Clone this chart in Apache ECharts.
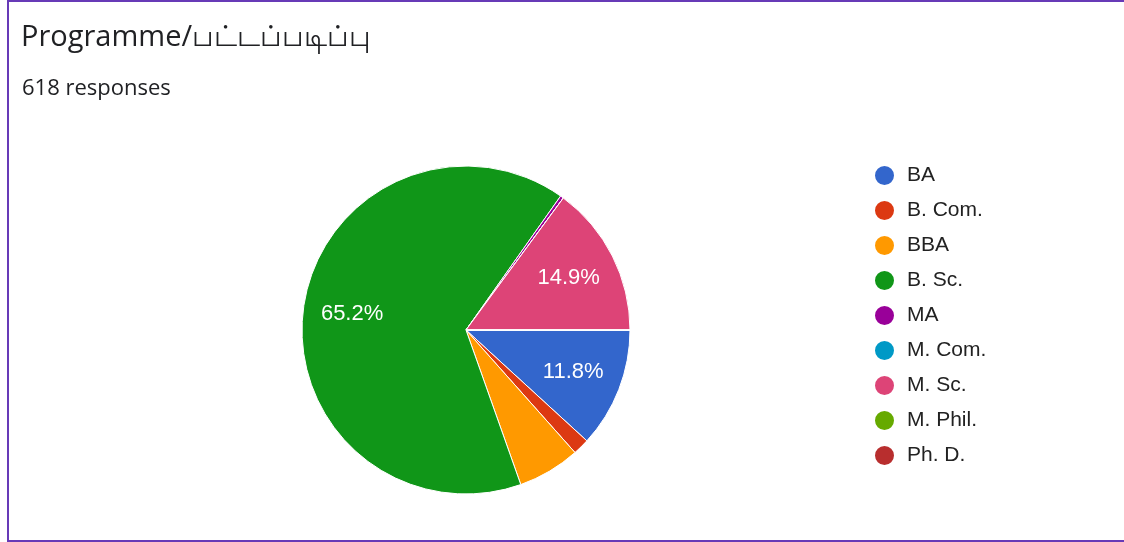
<!DOCTYPE html>
<html>
<head>
<meta charset="utf-8">
<script src="https://cdn.jsdelivr.net/npm/echarts@6/dist/echarts.min.js"></script>
<style>
  html, body { margin: 0; padding: 0; background: #fff; }
  #frame {
    position: absolute; left: 7px; top: 0; width: 1130px; height: 538px;
    border: 2px solid #673ab7; border-right: none; box-sizing: content-box;
  }
  #chart { position: absolute; left: 0; top: 0; width: 1124px; height: 542px; }
</style>
</head>
<body>
<div id="frame"></div>
<div id="chart"></div>
<script>
// responses per programme (618 total)
const programmes = ['BA', 'B. Com.', 'BBA', 'B. Sc.', 'MA', 'M. Com.', 'M. Sc.', 'M. Phil.', 'Ph. D.']
const counts = [73, 10, 38, 403, 2, 0, 92, 0, 0]
const colors = ['#3366cc', '#dc3912', '#ff9900', '#109618', '#990099', '#0099c6', '#dd4477', '#66aa00', '#b82e2e']
const total = 618

const pieData = programmes.map((name, i) => ({ name, value: counts[i] }))

const chart = echarts.init(document.getElementById('chart'))
chart.setOption({
  animation: false,
  color: colors,
  title: [
    { text: 'Programme/பட்டப்படிப்பு', left: 16, top: 18, padding: 5,
      textStyle: { fontFamily: 'Open Sans', fontSize: 29, fontWeight: 'normal', color: '#202124' } },
    { text: total + ' responses', left: 17, top: 73, padding: 5,
      textStyle: { fontFamily: 'Open Sans', fontSize: 22, fontWeight: 'normal', color: '#202124' } },
  ],
  legend: {
    orient: 'vertical', left: 873, top: 164, padding: 0,
    icon: 'circle', itemWidth: 21, itemHeight: 21, itemGap: 12,
    data: programmes,
    textStyle: { fontFamily: 'Liberation Sans', fontSize: 21, lineHeight: 21, color: '#222', padding: [0, 0, 0, 7] },
  },
  series: [
    {
      type: 'pie', center: [466, 330], radius: [0, 164],
      startAngle: 0, clockwise: true,
      data: pieData,
      itemStyle: { borderColor: '#fff', borderWidth: 1 },
      label: { show: false }, labelLine: { show: false },
      emphasis: { disabled: true },
    },
    {
      // transparent copy only to place percentages at ~0.68 of the radius
      type: 'pie', center: [466, 330], radius: [0, 224],
      startAngle: 0, clockwise: true, silent: true, z: 3,
      data: pieData,
      itemStyle: { color: 'rgba(0,0,0,0)' },
      labelLine: { show: false },
      label: {
        show: true, position: 'inside',
        fontFamily: 'Liberation Sans', fontSize: 22, color: '#fff',
        formatter: p => p.value / total >= 0.08 ? (p.value / total * 100).toFixed(1) + '%' : '',
      },
      emphasis: { disabled: true },
    },
  ],
})
</script>
</body>
</html>
